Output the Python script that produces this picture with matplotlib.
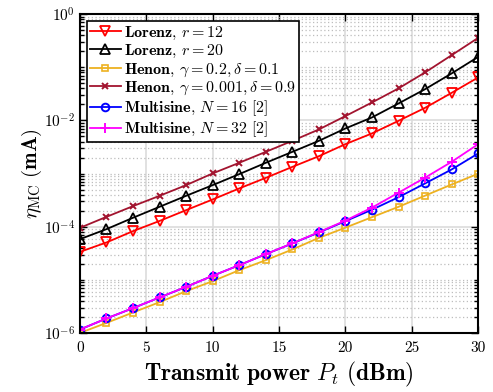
import matplotlib
matplotlib.use('Agg')
import matplotlib.pyplot as plt
from matplotlib import ticker
import numpy as np

plt.rcParams['mathtext.fontset'] = 'cm'
plt.rcParams['font.family'] = 'cmr10'
plt.rcParams['axes.formatter.use_mathtext'] = True

# transmit power (dBm)
pt = np.arange(0, 31, 2)

lorenz_r12 = [3.38e-5, 5.08e-5, 8.3e-5, 1.29e-4, 2.06e-4, 3.27e-4, 5.27e-4, 8.34e-4,
              1.34e-3, 2.13e-3, 3.59e-3, 5.71e-3, 9.85e-3, 1.73e-2, 3.31e-2, 6.45e-2]
lorenz_r20 = [5.86e-5, 9.04e-5, 1.48e-4, 2.38e-4, 3.83e-4, 6.08e-4, 9.79e-4, 1.60e-3,
              2.57e-3, 4.14e-3, 7.08e-3, 1.14e-2, 2.09e-2, 3.88e-2, 7.67e-2, 0.157]
henon_a = [1.01e-6, 1.56e-6, 2.45e-6, 3.83e-6, 6.17e-6, 9.51e-6, 1.53e-5, 2.36e-5,
           3.75e-5, 6.21e-5, 9.66e-5, 1.52e-4, 2.38e-4, 3.86e-4, 6.26e-4, 1.0e-3]
henon_b = [9.57e-5, 1.54e-4, 2.45e-4, 3.83e-4, 6.08e-4, 1.01e-3, 1.60e-3, 2.57e-3,
           4.14e-3, 6.78e-3, 1.21e-2, 2.18e-2, 4.01e-2, 8.01e-2, 0.169, 0.358]
msine_16 = [1.17e-6, 1.89e-6, 2.96e-6, 4.70e-6, 7.43e-6, 1.20e-5, 1.90e-5, 3.06e-5,
            4.87e-5, 7.84e-5, 1.28e-4, 2.10e-4, 3.61e-4, 6.55e-4, 1.20e-3, 2.40e-3]
msine_32 = [1.17e-6, 1.89e-6, 2.96e-6, 4.70e-6, 7.43e-6, 1.20e-5, 1.90e-5, 3.06e-5,
            4.90e-5, 7.95e-5, 1.31e-4, 2.30e-4, 4.39e-4, 8.41e-4, 1.67e-3, 3.59e-3]

labels = [r'$\mathbf{Lorenz}$, $r = 12$',
          r'$\mathbf{Lorenz}$, $r = 20$',
          r'$\mathbf{Henon}$, $\gamma = 0.2, \delta = 0.1$',
          r'$\mathbf{Henon}$, $\gamma = 0.001, \delta = 0.9$',
          r'$\mathbf{Multisine}$, $N = 16\ [2]$',
          r'$\mathbf{Multisine}$, $N = 32\ [2]$']

fig = plt.figure(figsize=(4.93, 3.92), dpi=100)
ax = fig.add_axes([0.162, 0.150, 0.808, 0.814])

lw = 1.3
ax.plot(pt, lorenz_r12, color='#ff0000', marker='v', ms=6.5, mfc='none', mew=1.3, lw=lw, label=labels[0])
ax.plot(pt, lorenz_r20, color='black', marker='^', ms=6.5, mfc='none', mew=1.3, lw=lw, label=labels[1])
ax.plot(pt, henon_a, color='#EDB120', marker='s', ms=4.2, mfc='none', mew=1.2, lw=lw, label=labels[2])
ax.plot(pt, henon_b, color='#A2142F', marker='x', ms=4.5, mew=1.4, lw=lw, label=labels[3])
ax.plot(pt, msine_16, color='#0000ff', marker='o', ms=5.5, mfc='none', mew=1.4, lw=lw, label=labels[4])
ax.plot(pt, msine_32, color='#ff00ff', marker='+', ms=6.5, mew=1.4, lw=lw, label=labels[5])

ax.set_yscale('log')
ax.set_xlim(0, 30)
ax.set_ylim(1e-6, 1)
ax.set_xticks([0, 5, 10, 15, 20, 25, 30])
ax.set_xticklabels(['0', '5', '10', '15', '20', '25', '30'])
ax.set_yticks([1e-6, 1e-4, 1e-2, 1])
ax.set_yticklabels([r'$10^{-6}$', r'$10^{-4}$', r'$10^{-2}$', r'$10^{0}$'])
ax.yaxis.set_minor_locator(ticker.LogLocator(base=10, subs=np.arange(1, 10), numticks=20))
ax.yaxis.set_minor_formatter(ticker.NullFormatter())

ax.tick_params(which='both', direction='in', top=True, right=True, labelsize=11, width=1.0)
ax.tick_params(axis='x', pad=6)
ax.tick_params(which='major', length=5)
ax.tick_params(which='minor', length=3)
for s in ax.spines.values():
    s.set_linewidth(1.5)

ax.grid(True, which='major', color='#dcdcdc', lw=1.2, ls='-')
ax.grid(True, which='minor', axis='y', color='#bdbdbd', lw=0.9, ls=(0, (1, 2)))
ax.set_axisbelow(True)

ax.set_xlabel(r'$\mathbf{Transmit\ power}\ P_t\ \mathbf{(dBm)}$', fontsize=17, labelpad=3)
ax.set_ylabel(r'$\eta_{\rm MC}\ \mathbf{(mA)}$', fontsize=15, labelpad=0)

leg = ax.legend(loc='upper left', fontsize=11.5, handlelength=1.9, handletextpad=0.2,
                borderpad=0.2, labelspacing=0.08, borderaxespad=0.45, fancybox=False,
                framealpha=1, edgecolor='black')
leg.get_frame().set_linewidth(1.2)

fig.savefig('out.png', dpi=100)
